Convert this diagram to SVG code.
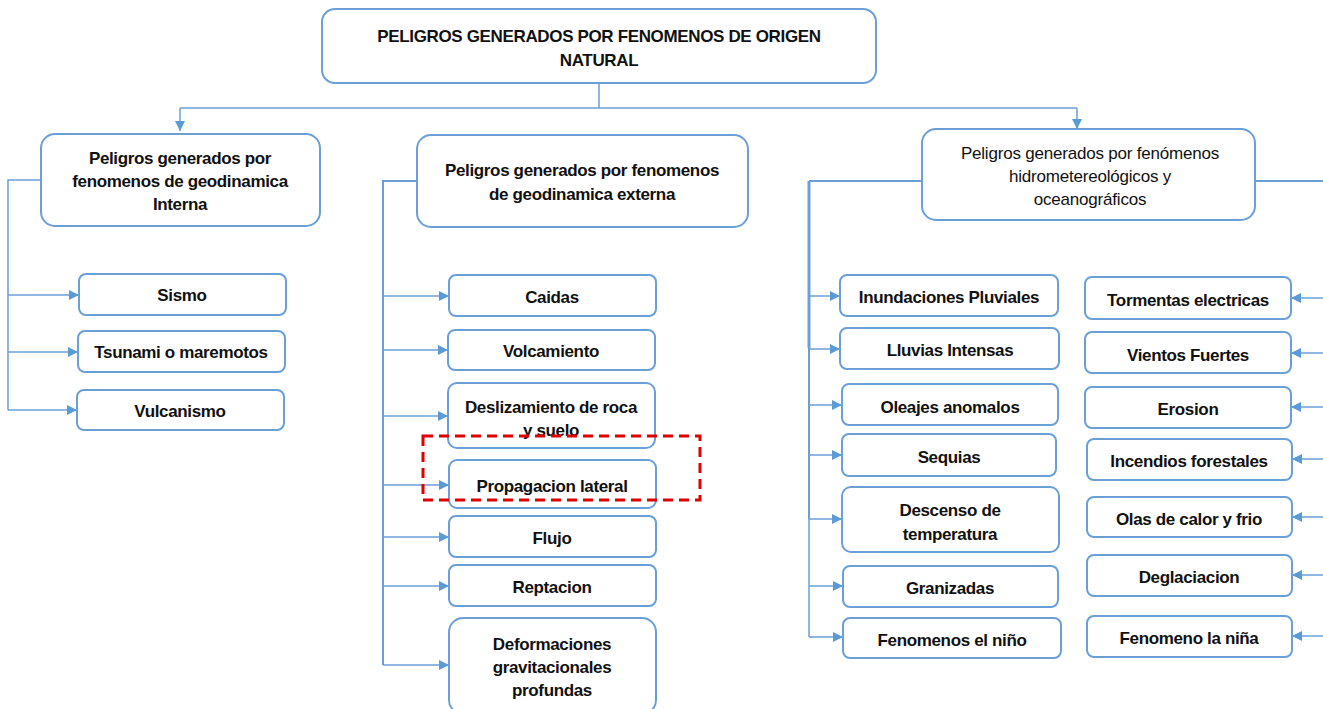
<svg xmlns="http://www.w3.org/2000/svg" width="1323" height="709" viewBox="0 0 1323 709">
<style>
.b{fill:#fff;stroke:#6a9fd8;stroke-width:2}
.t{font-family:"Liberation Sans",Arial,sans-serif;font-weight:bold;font-size:17px;fill:#111;text-anchor:middle;letter-spacing:-0.35px}
.n{font-family:"Liberation Sans",Arial,sans-serif;font-size:17px;fill:#111;text-anchor:middle;letter-spacing:-0.2px}
.c{fill:none;stroke:#6a9fd8;stroke-width:1.5}
</style>
<defs>
<marker id="a" viewBox="0 0 10 10" refX="10" refY="5" markerWidth="10" markerHeight="10" markerUnits="userSpaceOnUse" orient="auto">
<path d="M0,0 L10,5 L0,10 Z" fill="#5b9bd5"/>
</marker>
</defs>
<g id="connectors">
<path class="c" d="M599,83 V108 M180,108 H1077"/>
<path class="c" d="M180,108 V131" marker-end="url(#a)"/>
<path class="c" d="M1077,108 V129" marker-end="url(#a)"/>
<path class="c" d="M41,180 H8 V410"/>
<path class="c" d="M8,295 H79" marker-end="url(#a)"/>
<path class="c" d="M8,352 H78" marker-end="url(#a)"/>
<path class="c" d="M8,410 H77" marker-end="url(#a)"/>
<path class="c" d="M417,181 H383 V665" style="stroke-width:2"/>
<path class="c" d="M383,296 H449" marker-end="url(#a)"/>
<path class="c" d="M383,350 H448" marker-end="url(#a)"/>
<path class="c" d="M383,416 H448" marker-end="url(#a)"/>
<path class="c" d="M383,485 H449" marker-end="url(#a)"/>
<path class="c" d="M383,537 H449" marker-end="url(#a)"/>
<path class="c" d="M383,586 H449" marker-end="url(#a)"/>
<path class="c" d="M383,665 H449" marker-end="url(#a)"/>
<path class="c" d="M922,181 H809" style="stroke-width:2"/>
<path class="c" d="M809,181 V348" style="stroke-width:3"/>
<path class="c" d="M809,348 V519" style="stroke-width:2"/>
<path class="c" d="M809,519 V637"/>
<path class="c" d="M809,296 H840" marker-end="url(#a)"/>
<path class="c" d="M809,349 H840" marker-end="url(#a)"/>
<path class="c" d="M809,405 H842" marker-end="url(#a)"/>
<path class="c" d="M809,455 H842" marker-end="url(#a)"/>
<path class="c" d="M809,519 H842" marker-end="url(#a)"/>
<path class="c" d="M809,586 H843" marker-end="url(#a)"/>
<path class="c" d="M809,637 H843" marker-end="url(#a)"/>
<path class="c" d="M1255,181 H1323" style="stroke-width:2"/>
<path class="c" d="M1323,298 H1291" marker-end="url(#a)"/>
<path class="c" d="M1323,353 H1291" marker-end="url(#a)"/>
<path class="c" d="M1323,407 H1291" marker-end="url(#a)"/>
<path class="c" d="M1323,459 H1292" marker-end="url(#a)"/>
<path class="c" d="M1323,517 H1292" marker-end="url(#a)"/>
<path class="c" d="M1323,575 H1292" marker-end="url(#a)"/>
<path class="c" d="M1323,636 H1292" marker-end="url(#a)"/>
</g>
<g id="root"><rect class="b" x="322" y="9" width="554" height="74" rx="13"/>
<text class="t" x="599" y="42">PELIGROS GENERADOS POR FENOMENOS DE ORIGEN</text>
<text class="t" x="599" y="66">NATURAL</text></g>
<g id="interna"><rect class="b" x="41" y="134" width="279" height="92" rx="14"/>
<text class="t" x="180" y="164">Peligros generados por</text>
<text class="t" x="180" y="187">fenomenos de geodinamica</text>
<text class="t" x="180" y="210">Interna</text></g>
<g id="externa"><rect class="b" x="417" y="135" width="331" height="92" rx="14"/>
<text class="t" x="582" y="176">Peligros generados por fenomenos</text>
<text class="t" x="582" y="200">de geodinamica externa</text></g>
<g id="hidro"><rect class="b" x="922" y="129" width="333" height="91" rx="14"/>
<text class="n" x="1090" y="159">Peligros generados por fenómenos</text>
<text class="n" x="1090" y="182">hidrometereológicos y</text>
<text class="n" x="1090" y="205">oceanográficos</text></g>
<g id="sismo"><rect class="b" x="79" y="274" width="207" height="41" rx="7"/><text class="t" x="182" y="301">Sismo</text></g>
<g id="tsunami"><rect class="b" x="78" y="331" width="207" height="41" rx="7"/><text class="t" x="181" y="358">Tsunami o maremotos</text></g>
<g id="vulcanismo"><rect class="b" x="77" y="390" width="207" height="40" rx="7"/><text class="t" x="180" y="417">Vulcanismo</text></g>
<g id="caidas"><rect class="b" x="449" y="275" width="207" height="41" rx="7"/><text class="t" x="552" y="303">Caidas</text></g>
<g id="volcamiento"><rect class="b" x="448" y="330" width="207" height="40" rx="7"/><text class="t" x="551" y="357">Volcamiento</text></g>
<g id="deslizamiento"><rect class="b" x="448" y="383" width="207" height="65" rx="9"/><text class="t" x="551" y="413">Deslizamiento de roca</text><text class="t" x="551" y="436">y suelo</text></g>
<g id="propagacion"><rect class="b" x="449" y="460" width="207" height="48" rx="8"/><text class="t" x="552" y="492">Propagacion lateral</text></g>
<g id="flujo"><rect class="b" x="449" y="516" width="207" height="41" rx="7"/><text class="t" x="552" y="544">Flujo</text></g>
<g id="reptacion"><rect class="b" x="449" y="565" width="207" height="41" rx="7"/><text class="t" x="552" y="593">Reptacion</text></g>
<g id="deformaciones"><rect class="b" x="449" y="618" width="207" height="96" rx="14"/><text class="t" x="552" y="650">Deformaciones</text><text class="t" x="552" y="673">gravitacionales</text><text class="t" x="552" y="696">profundas</text></g>
<rect x="423" y="436" width="277" height="64" fill="none" stroke="#e00000" stroke-width="3" stroke-dasharray="10,6"/>
<g id="inundaciones"><rect class="b" x="840" y="275" width="218" height="41" rx="7"/><text class="t" x="949" y="303">Inundaciones Pluviales</text></g>
<g id="lluvias"><rect class="b" x="840" y="328" width="219" height="41" rx="7"/><text class="t" x="950" y="356">Lluvias Intensas</text></g>
<g id="oleajes"><rect class="b" x="842" y="384" width="216" height="41" rx="7"/><text class="t" x="950" y="413">Oleajes anomalos</text></g>
<g id="sequias"><rect class="b" x="842" y="434" width="214" height="42" rx="7"/><text class="t" x="949" y="463">Sequias</text></g>
<g id="descenso"><rect class="b" x="842" y="487" width="217" height="65" rx="9"/><text class="t" x="950" y="516">Descenso de</text><text class="t" x="950" y="540">temperatura</text></g>
<g id="granizadas"><rect class="b" x="843" y="566" width="215" height="41" rx="7"/><text class="t" x="950" y="594">Granizadas</text></g>
<g id="nino"><rect class="b" x="843" y="618" width="218" height="40" rx="7"/><text class="t" x="952" y="646">Fenomenos el niño</text></g>
<g id="tormentas"><rect class="b" x="1085" y="277" width="206" height="42" rx="7"/><text class="t" x="1188" y="306">Tormentas electricas</text></g>
<g id="vientos"><rect class="b" x="1085" y="332" width="206" height="41" rx="7"/><text class="t" x="1188" y="361">Vientos Fuertes</text></g>
<g id="erosion"><rect class="b" x="1085" y="387" width="206" height="41" rx="7"/><text class="t" x="1188" y="415">Erosion</text></g>
<g id="incendios"><rect class="b" x="1087" y="439" width="205" height="41" rx="7"/><text class="t" x="1189" y="467">Incendios forestales</text></g>
<g id="olas"><rect class="b" x="1087" y="497" width="205" height="40" rx="7"/><text class="t" x="1189" y="525">Olas de calor y frio</text></g>
<g id="deglaciacion"><rect class="b" x="1087" y="555" width="205" height="41" rx="7"/><text class="t" x="1189" y="583">Deglaciacion</text></g>
<g id="nina"><rect class="b" x="1087" y="616" width="205" height="41" rx="7"/><text class="t" x="1189" y="644">Fenomeno la niña</text></g>
</svg>
